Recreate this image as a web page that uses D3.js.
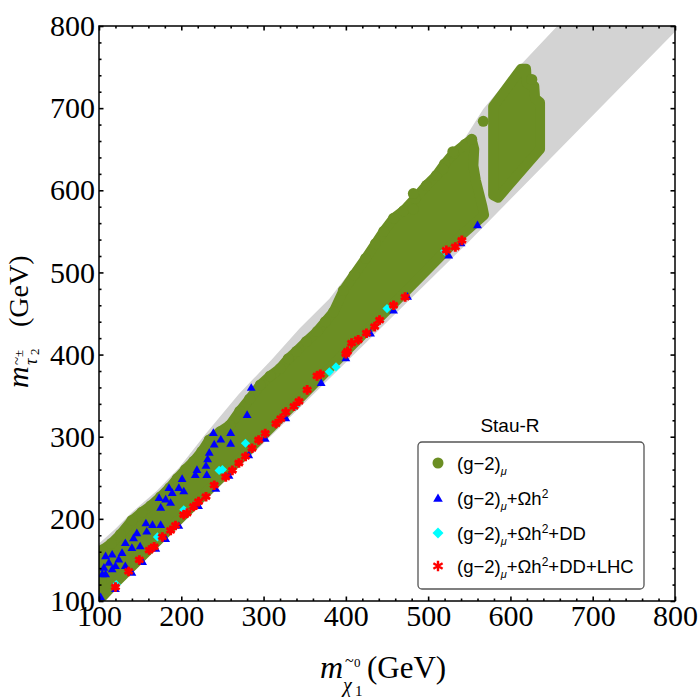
<!DOCTYPE html>
<html>
<head>
<meta charset="utf-8">
<script src="https://cdn.jsdelivr.net/npm/d3@7"></script>
<style>
body { margin: 0; background: #fff; }
</style>
</head>
<body>
<svg id="chart" width="700" height="700"></svg>
<script>
// axis ticks
var majorTicks = [100, 200, 300, 400, 500, 600, 700, 800]
var minorTicks = d3.range(120, 800, 20).filter(function(d){ return d % 100 })

// scanned region (grey): upper and lower boundary
var grayUpper = [[100,170],[120,188],[140,208],[170,234],[197,262],[230,304],[270,352],[310,394],[344,432],[380,468],[417,516],[457,561],[490,596],[523,630],[545,664],[567,699],[610,750],[657,800],[800,800]]
var grayLower = [[800,793],[550,538],[300,292],[100,95]]

// (g-2)_mu points: upper fringe of the dense cloud
var greenEdge = [[104,162],[115,170],[126,181],[140,198],[152,208],[163,216],[175,227],[186,238],[195,249],[205,260],[215,270],[225,282],[234,296],[247,306],[259,314],[271,331],[283,346],[296,363],[308,374],[320,383],[330,395],[340,404],[352,416],[365,428],[375,440],[385,452],[397,478],[410,497],[424,517],[436,535],[446,550],[458,566],[470,575],[484,590],[498,606],[510,618],[520,632],[531,645],[545,656],[553,662]]
// lower side of the cloud, along the diagonal
var greenLower = [[556,650],[555,630],[558,612],[562,596],[566,580],[568,570],[540,545],[480,484],[420,424],[360,363],[300,302],[240,242],[180,182],[120,122],[103,104]]
// dense block of points at high mass
var greenBlock = [[579,702],[613,748],[619,748],[620,730],[629,727],[630,712],[636,707],[636,650],[585,591],[579,594]]
var greenExtra = [[626,735],[567,684],[530,647],[518,626],[482,596],[482,577]]

// (g-2)_mu + Omega h^2
var bluePts = [[285,359],[280,326],[239,304],[260,304],[248,296],[260,291],[240,290],[234,280],[232,272],[230,264],[219,259],[217,253],[231,253],[201,248],[185,237],[197,237],[203,233],[189,231],[173,225],[181,223],[187,219],[175,213],[157,194],[165,192],[175,192],[146,182],[158,184],[142,176],[132,170],[150,166],[140,164],[128,158],[116,156],[108,154],[124,150],[112,146],[106,140],[120,142],[132,142],[104,132],[116,138],[108,132],[102,104],
  [120,114],[140,134],[153,147],[169,163],[181,175],[197,191],[221,215],[242,236],[258,252],[282,277],[302,297],[327,322],[370,365],[400,395],[430,425],[458,453],[475,470],[525,520],[540,535],[560,557]]

// + DD
var cyanPts = [[121,120],[171,178],[203,211],[246,259],[250,260],[278,292],[339,337],[380,379],[388,385],[450,456],[520,526]]

// + LHC
var redPts = [[120,117],[136,136],[149,150],[161,162],[167,166],[177,178],[187,186],[193,192],[203,205],[207,207],[215,215],[221,221],[230,227],[240,241],[254,251],[262,259],[270,268],[278,276],[286,286],[294,296],[302,304],[315,316],[321,322],[327,330],[337,337],[343,343],[353,357],[365,374],[369,376],[400,401],[402,404],[407,414],[415,418],[425,426],[435,434],[441,442],[458,460],[472,470],[522,527],[533,531],[541,539]]

var legendLabels = ["(g\u22122)", "(g\u22122)", "(g\u22122)", "(g\u22122)"]

var GREEN = "#6b8e23", GRAY = "#d3d3d3"

var svg = d3.select("#chart")
var padL = 99, padR = 675, padT = 26, padB = 601

var x = d3.scaleLinear().domain([100, 800]).range([padL, padR])
var y = d3.scaleLinear().domain([100, 800]).range([padB, padT])

svg.append("defs").append("clipPath").attr("id", "clip")
  .append("rect").attr("x", padL).attr("y", padT).attr("width", padR - padL).attr("height", padB - padT)

var plot = svg.append("g").attr("clip-path", "url(#clip)")

var line = d3.line().x(function(d){ return x(d[0]) }).y(function(d){ return y(d[1]) })

// grey band
plot.append("path")
  .attr("d", line(grayUpper.concat(grayLower)) + "Z")
  .attr("fill", GRAY)

// green cloud
plot.append("path")
  .attr("d", line(greenEdge.concat(greenLower)) + "Z")
  .attr("fill", GREEN).attr("stroke", GREEN)
  .attr("stroke-width", 10).attr("stroke-linejoin", "round")

plot.append("path")
  .attr("d", line(greenBlock) + "Z")
  .attr("fill", GREEN).attr("stroke", GREEN)
  .attr("stroke-width", 10).attr("stroke-linejoin", "round")

plot.selectAll("circle.g").data(greenEdge.concat(greenExtra)).enter().append("circle")
  .attr("class", "g")
  .attr("cx", function(d){ return x(d[0]) })
  .attr("cy", function(d){ return y(d[1]) })
  .attr("r", 5.5)
  .attr("fill", GREEN)

var tri = d3.symbol().type(d3.symbolTriangle).size(34)
plot.selectAll("path.b").data(bluePts).enter().append("path")
  .attr("class", "b")
  .attr("d", tri)
  .attr("transform", function(d){ return "translate(" + x(d[0]) + "," + y(d[1]) + ")" })
  .attr("fill", "#0000ff")

var sq = d3.symbol().type(d3.symbolSquare).size(42)
plot.selectAll("path.c").data(cyanPts).enter().append("path")
  .attr("class", "c")
  .attr("d", sq)
  .attr("transform", function(d){ return "translate(" + x(d[0]) + "," + y(d[1]) + ") rotate(45)" })
  .attr("fill", "#00ffff")

var star = d3.symbol().type(d3.symbolAsterisk).size(64)
plot.selectAll("path.r").data(redPts).enter().append("path")
  .attr("class", "r")
  .attr("d", star)
  .attr("transform", function(d){ return "translate(" + x(d[0]) + "," + y(d[1]) + ")" })
  .attr("fill", "none").attr("stroke", "#ff0000").attr("stroke-width", 3)

// frame and ticks
svg.append("rect")
  .attr("x", padL).attr("y", padT).attr("width", padR - padL).attr("height", padB - padT)
  .attr("fill", "none").attr("stroke", "#000").attr("stroke-width", 1.5)

function ticks(axis, vals, size, labels, tx) {
  var g = svg.append("g").attr("transform", tx)
    .call(axis.tickValues(vals).tickSize(-size).tickPadding(labels ? 4 : 0)
      .tickFormat(labels ? d3.format("d") : ""))
  g.select(".domain").remove()
  g.selectAll(".tick line").attr("stroke-width", 1.6)
  g.selectAll("text").attr("font-family", "'Liberation Serif', 'Times New Roman', serif")
    .attr("font-size", 30).attr("fill", "#000")
  return g
}

ticks(d3.axisBottom(x), majorTicks, 4.5, true, "translate(0," + padB + ")")
ticks(d3.axisBottom(x), minorTicks, 2.5, false, "translate(0," + padB + ")")
ticks(d3.axisLeft(y), majorTicks, 4.5, true, "translate(" + padL + ",0)")
ticks(d3.axisLeft(y), minorTicks, 2.5, false, "translate(" + padL + ",0)")
ticks(d3.axisTop(x), majorTicks, 4.5, false, "translate(0," + padT + ")")
ticks(d3.axisTop(x), minorTicks, 2.5, false, "translate(0," + padT + ")")
ticks(d3.axisRight(y), majorTicks, 4.5, false, "translate(" + padR + ",0)")
ticks(d3.axisRight(y), minorTicks, 2.5, false, "translate(" + padR + ",0)")

// axis titles
var serif = "'Liberation Serif', 'Times New Roman', serif"
function t(g, txt, px, py, size, italic) {
  return g.append("text").attr("x", px).attr("y", py).text(txt)
    .attr("font-family", serif).attr("font-size", size)
    .attr("font-style", italic ? "italic" : "normal")
}
var xt = svg.append("g").attr("transform", "translate(320,678)")
t(xt, "m", 0, 0, 32, true)
t(xt, "\u03c7", 23, 14, 20, true)
t(xt, "1", 35, 18, 15, false)
t(xt, "~", 25, -12, 16, false)
t(xt, "0", 34, -11, 13, false)
t(xt, "(GeV)", 47, 0, 31, false)

var yt = svg.append("g").attr("transform", "translate(28,388) rotate(-90)")
t(yt, "m", 0, 0, 30, true)
t(yt, "\u03c4", 23, 9, 18, true)
t(yt, "2", 33, 11, 13, false)
t(yt, "~", 23, -6, 15, false)
t(yt, "\u00b1", 31, -5, 13, false)
t(yt, "(GeV)", 61, 0, 28, false)

// legend
var sans = "'Liberation Sans', Arial, sans-serif"
var lg = svg.append("g")
lg.append("text").attr("x", 510).attr("y", 432).attr("text-anchor", "middle")
  .attr("font-family", sans).attr("font-size", 19).text("Stau-R")
lg.append("rect").attr("x", 418).attr("y", 442).attr("width", 226).attr("height", 147)
  .attr("rx", 4).attr("fill", "#fff").attr("stroke", "#555").attr("stroke-width", 1.3)

var rows = [463, 498, 533, 566]
lg.append("circle").attr("cx", 438).attr("cy", rows[0]).attr("r", 5.5).attr("fill", GREEN)
lg.append("path").attr("d", d3.symbol().type(d3.symbolTriangle).size(40)())
  .attr("transform", "translate(438," + (rows[1] + 1) + ")").attr("fill", "#0000ff")
lg.append("path").attr("d", d3.symbol().type(d3.symbolSquare).size(60)())
  .attr("transform", "translate(438," + rows[2] + ") rotate(45)").attr("fill", "#00ffff")
lg.append("path").attr("d", d3.symbol().type(d3.symbolAsterisk).size(80)())
  .attr("transform", "translate(438," + rows[3] + ")").attr("fill", "none")
  .attr("stroke", "#ff0000").attr("stroke-width", 2.4)

var extras = [[], ["+\u03a9h", "2"], ["+\u03a9h", "2", "+DD"], ["+\u03a9h", "2", "+DD+LHC"]]
rows.forEach(function(r, i) {
  var tx = lg.append("text").attr("x", 457).attr("y", r + 7)
    .attr("font-family", sans).attr("font-size", 18.5)
  tx.append("tspan").text(legendLabels[i])
  tx.append("tspan").text("\u03bc").attr("font-size", 11).attr("font-style", "italic").attr("dy", 5)
  var e = extras[i]
  if (e.length) {
    tx.append("tspan").text(e[0]).attr("dy", -5)
    tx.append("tspan").text(e[1]).attr("font-size", 12).attr("dy", -7)
    if (e[2]) tx.append("tspan").text(e[2]).attr("dy", 7)
  }
})
</script>
</body>
</html>
